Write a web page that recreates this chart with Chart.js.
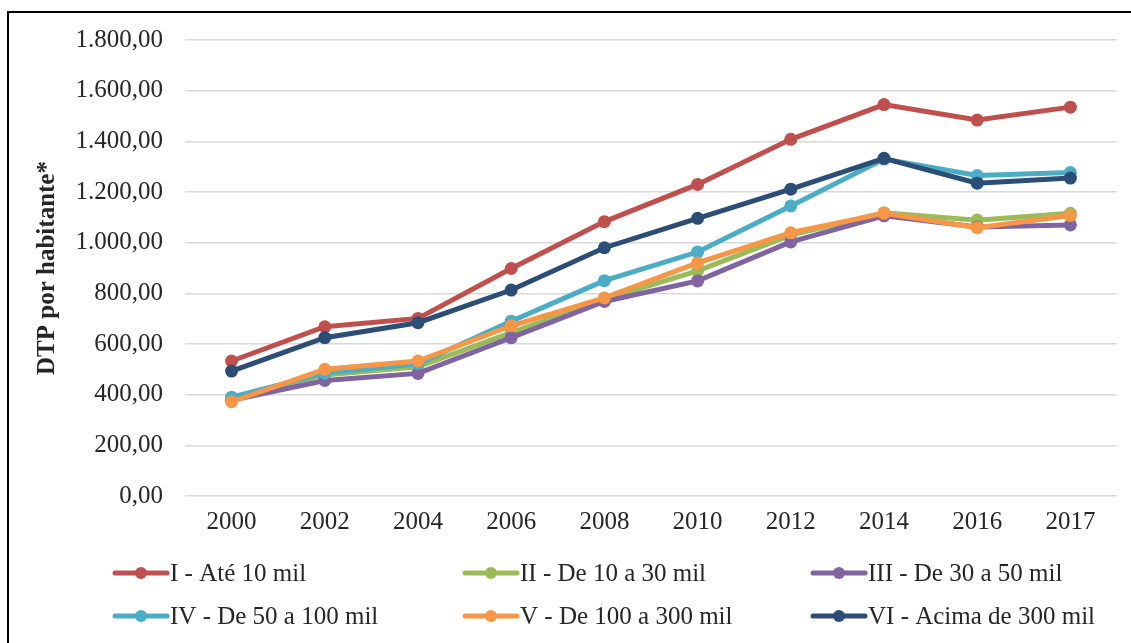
<!DOCTYPE html>
<html>
<head>
<meta charset="utf-8">
<script src="https://cdn.jsdelivr.net/npm/chart.js@4/dist/chart.umd.min.js"></script>
<style>
  html, body { margin: 0; padding: 0; background: #fff; overflow: hidden; }
  #wrap { position: relative; width: 1131px; height: 643px; }
  #frame { position: absolute; left: 7px; top: 11px; width: 1300px; height: 800px;
           border: 2px solid #000; box-sizing: border-box; pointer-events: none; }
  canvas { position: absolute; left: 0; top: 0; }
</style>
</head>
<body>
<div id="wrap">
  <canvas id="c" width="1131" height="643"></canvas>
  <div id="frame"></div>
</div>
<script>
// Years on the horizontal axis
const years = ['2000', '2002', '2004', '2006', '2008', '2010', '2012', '2014', '2016', '2017'];

// DTP per inhabitant by municipality size group
const grupoI   = [533, 668, 701, 898, 1083, 1230, 1408, 1545, 1484, 1535];
const grupoII  = [380, 478, 510, 645, 776, 889, 1030, 1118, 1089, 1116];
const grupoIII = [378, 456, 484, 625, 768, 849, 1003, 1106, 1062, 1070];
const grupoIV  = [390, 485, 522, 690, 850, 963, 1145, 1330, 1265, 1277];
const grupoV   = [372, 500, 533, 672, 782, 920, 1039, 1116, 1059, 1107];
const grupoVI  = [493, 625, 684, 813, 980, 1096, 1211, 1333, 1235, 1255];

const seriesNames = [
  'I - Até 10 mil', 'II - De 10 a 30 mil', 'III - De 30 a 50 mil',
  'IV - De 50 a 100 mil', 'V - De 100 a 300 mil', 'VI - Acima de 300 mil'
];
const seriesColors = ['#C0504D', '#9BBB59', '#8064A2', '#4BACC6', '#F79646', '#2C4D75'];
const seriesData = [grupoI, grupoII, grupoIII, grupoIV, grupoV, grupoVI];

const FONT = '"Liberation Serif", "Times New Roman", serif';
const TEXT = '#262626';

// pt-BR number format: 1.800,00
function fmtBR(v) {
  const fixed = Math.abs(v).toFixed(2);
  let [int, dec] = fixed.split('.');
  int = int.replace(/\B(?=(\d{3})+(?!\d))/g, '.');
  return (v < 0 ? '-' : '') + int + ',' + dec;
}

// Legend laid out in a 3-column grid below the plot
const gridLegend = {
  id: 'gridLegend',
  afterDraw(chart) {
    const ctx = chart.ctx;
    const colX = [115, 465, 813];
    const rowY = [573, 616];
    ctx.save();
    chart.data.datasets.forEach((ds, i) => {
      const x = colX[i % 3];
      const y = rowY[Math.floor(i / 3)];
      ctx.strokeStyle = ds.borderColor;
      ctx.lineWidth = 5;
      ctx.lineCap = 'round';
      ctx.beginPath();
      ctx.moveTo(x, y);
      ctx.lineTo(x + 52, y);
      ctx.stroke();
      ctx.fillStyle = ds.borderColor;
      ctx.beginPath();
      ctx.arc(x + 26, y, 6, 0, Math.PI * 2);
      ctx.fill();
      ctx.fillStyle = TEXT;
      ctx.font = '25px ' + FONT;
      ctx.textBaseline = 'middle';
      ctx.textAlign = 'left';
      ctx.fillText(ds.label, x + 55, y + 1);
    });
    ctx.restore();
  }
};

new Chart(document.getElementById('c'), {
  type: 'line',
  data: {
    labels: years,
    datasets: seriesData.map((d, i) => ({
      label: seriesNames[i],
      data: d,
      borderColor: seriesColors[i],
      backgroundColor: seriesColors[i],
      pointBackgroundColor: seriesColors[i],
      pointBorderColor: seriesColors[i],
      borderWidth: 5,
      pointRadius: 6.5,
      pointBorderWidth: 0,
      tension: 0,
      order: seriesData.length - i
    }))
  },
  options: {
    responsive: false,
    animation: false,
    layout: { padding: { left: 0, top: 40, right: 14, bottom: 0 } },
    plugins: {
      legend: { display: false },
      tooltip: { enabled: false }
    },
    scales: {
      x: {
        offset: true,
        grid: { display: false, drawTicks: false },
        border: { display: false },
        ticks: { color: TEXT, font: { family: FONT, size: 25 }, padding: 11, maxRotation: 0 },
        afterFit(scale) { scale.height = 147; }
      },
      y: {
        min: 0,
        max: 1800,
        grid: { color: '#D9D9D9', lineWidth: 1.5, drawTicks: false },
        border: { display: false },
        ticks: {
          stepSize: 200,
          color: TEXT,
          font: { family: FONT, size: 25 },
          padding: 22,
          callback: v => fmtBR(v)
        },
        title: {
          display: true,
          text: 'DTP por habitante*',
          color: TEXT,
          font: { family: FONT, size: 25, weight: 'bold' },
          padding: { top: 33, bottom: 0 }
        },
        afterFit(scale) { scale.width = 185; }
      }
    }
  },
  plugins: [gridLegend]
});
</script>
</body>
</html>
